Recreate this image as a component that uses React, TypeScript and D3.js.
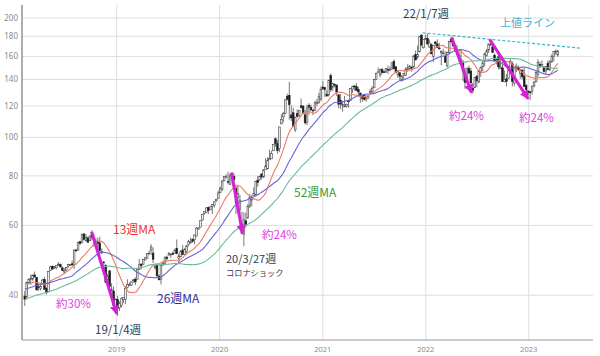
import React from "react";
import * as d3 from "d3";

const W = 600;
const H = 356;
const PL = 22, PR = 593, PT = 5, PB = 340;

// Closes of the 52 weeks before the first shown week (used only for moving averages)
const priorCloses: number[] = [
  33.0, 33.9, 34.2, 34.8, 34.8, 35.0, 35.2, 35.9, 35.8, 35.3, 35.6, 35.9,
  37.2, 39.0, 38.3, 38.4, 38.9, 37.2, 35.6, 36.6, 36.0, 36.0, 37.3, 37.6, 37.4,
  39.1, 39.4, 39.4, 40.0, 41.0, 39.7, 40.0, 38.0, 38.5, 38.8, 39.2, 39.1, 40.8,
  43.1, 43.7, 42.5, 43.7, 42.8, 42.3, 43.5, 43.8, 42.3, 43.8, 44.3, 44.6, 42.9, 40.1,
];

const firstWeek = "2018-02-09";

// weekly [open, high, low, close]
type Bar = [number, number, number, number];
const weeks2018: Bar[] = [
  [39.8, 41.0, 37.6, 39.1], [39.6, 43.3, 39.3, 43.1], [43.0, 44.1, 42.6, 43.9],
  [43.9, 45.1, 42.5, 44.05], [43.9, 45.0, 43.5, 45.0], [45.0, 45.9, 44.4, 44.5], [44.3, 44.5, 41.2, 41.24], [42.0, 43.0, 41.0, 41.95],
  [41.6, 43.0, 41.1, 42.1], [42.7, 44.0, 42.6, 43.68], [43.8, 44.5, 41.3, 41.43], [41.6, 41.9, 40.2, 40.58],
  [40.9, 46.1, 40.8, 45.96], [46.2, 47.5, 46.0, 47.15], [47.3, 47.6, 46.4, 46.58], [47.0, 47.4, 46.6, 47.15],
  [46.9, 47.6, 46.5, 47.56], [47.8, 48.5, 47.4, 47.93], [47.8, 48.1, 46.9, 47.21], [46.9, 47.3, 46.1, 46.23], [45.8, 46.9, 45.2, 46.28],
  [46.3, 47.1, 46.0, 46.99], [47.3, 48.0, 46.9, 47.83], [47.6, 48.0, 47.4, 47.86], [48.0, 48.9, 47.4, 47.75],
  [47.7, 52.2, 46.6, 52.0], [52.0, 52.4, 51.5, 51.88], [52.0, 54.5, 51.9, 54.4], [54.6, 54.6, 53.6, 54.04], [54.3, 57.2, 54.0, 56.91],
  [57.1, 57.4, 55.0, 55.33], [54.9, 57.1, 54.6, 55.96], [55.8, 56.3, 54.2, 54.42], [54.9, 56.5, 54.8, 56.44],
  [56.9, 58.4, 55.1, 56.07], [55.6, 57.0, 53.0, 55.53], [54.7, 55.8, 53.6, 54.83], [54.7, 55.9, 51.9, 54.08],
  [54.2, 56.2, 51.4, 51.87], [51.5, 52.5, 50.9, 51.12], [48.5, 48.8, 46.5, 48.38], [47.5, 47.9, 43.0, 43.07], [43.7, 45.3, 42.6, 44.65],
  [46.1, 46.2, 41.9, 42.12], [41.3, 42.9, 40.8, 41.37], [41.0, 42.1, 37.7, 37.68], [37.0, 39.3, 36.6, 39.06],
];
const weeks2019: Bar[] = [
  [39.0, 39.8, 35.5, 37.07], [37.2, 38.6, 36.5, 38.07], [37.7, 39.5, 37.3, 39.2], [39.0, 39.5, 38.2, 39.44],
  [39.0, 42.2, 38.0, 41.63], [41.8, 43.9, 41.6, 42.6], [42.4, 43.1, 42.2, 42.6], [42.4, 43.3, 42.4, 43.24],
  [43.5, 44.0, 43.0, 43.74], [43.9, 44.4, 42.4, 43.23], [43.9, 46.8, 43.8, 46.53], [46.5, 49.4, 46.4, 47.76], [47.9, 48.2, 46.5, 47.49],
  [47.9, 49.3, 47.8, 49.25], [49.1, 50.0, 49.0, 49.72], [49.6, 51.0, 49.5, 50.97], [51.0, 51.9, 50.7, 51.08],
  [52.0, 53.8, 50.6, 52.94], [51.1, 52.8, 48.2, 49.3], [46.9, 48.1, 46.4, 47.25], [47.5, 47.8, 44.7, 44.74], [44.7, 45.1, 43.6, 43.77],
  [43.9, 47.9, 42.6, 47.54], [47.9, 48.8, 47.4, 48.19], [48.2, 50.2, 48.0, 49.7], [49.9, 50.4, 48.9, 49.48],
  [50.8, 51.3, 50.2, 51.06], [50.5, 51.0, 49.7, 50.83], [51.0, 51.6, 50.6, 50.65], [51.0, 52.4, 50.9, 51.94],
  [52.5, 55.3, 50.7, 51.0], [49.5, 51.0, 48.1, 50.25], [50.0, 52.0, 50.0, 51.63], [52.0, 53.6, 50.5, 50.66], [50.7, 52.6, 50.6, 52.19],
  [51.6, 53.6, 51.1, 53.32], [53.7, 55.2, 53.1, 54.69], [54.4, 55.9, 54.1, 54.43], [55.3, 55.6, 54.3, 54.71],
  [55.2, 56.9, 53.8, 56.75], [56.4, 59.4, 56.3, 59.05], [58.7, 59.4, 58.6, 59.1], [59.4, 61.7, 59.3, 61.65],
  [61.9, 64.0, 61.7, 63.96], [64.3, 65.1, 63.8, 65.04], [64.6, 66.4, 64.6, 66.44], [66.5, 67.0, 64.1, 65.45], [65.7, 67.0, 65.6, 66.81],
  [66.9, 67.8, 64.1, 67.68], [67.5, 69.0, 66.5, 68.79], [69.2, 70.0, 68.8, 69.86], [70.1, 73.5, 70.1, 72.45],
];
const weeks2020: Bar[] = [
  [72.5, 75.2, 72.5, 74.36], [74.0, 78.2, 73.2, 77.58], [77.9, 79.7, 77.4, 79.68], [79.3, 80.8, 78.8, 79.58], [77.5, 81.9, 76.2, 77.38],
  [76.1, 81.2, 75.9, 80.01], [80.2, 81.8, 79.5, 81.24], [79.7, 81.2, 77.6, 78.26], [74.3, 76.0, 64.1, 68.34],
  [70.6, 76.0, 68.0, 72.26], [65.9, 71.6, 62.0, 69.49], [60.5, 65.0, 57.0, 57.31], [57.0, 64.7, 53.2, 61.94],
  [61.6, 64.6, 59.2, 60.35], [62.7, 67.9, 62.3, 67.0], [67.1, 72.1, 66.4, 70.7], [69.5, 71.5, 67.0, 70.74],
  [71.3, 74.8, 71.1, 72.27], [71.6, 77.6, 71.5, 77.53], [78.0, 79.9, 75.1, 76.93], [78.3, 80.2, 77.6, 79.72], [80.9, 81.1, 78.3, 79.49],
  [79.4, 83.0, 79.3, 82.88], [83.0, 88.7, 83.0, 84.7], [83.3, 89.1, 83.1, 87.43], [87.8, 93.1, 87.8, 88.41],
  [88.3, 92.6, 88.3, 91.03], [92.5, 96.3, 92.5, 95.92], [99.2, 99.9, 94.7, 96.52], [96.4, 98.5, 91.0, 92.62], [93.7, 106.4, 91.8, 106.26],
  [108.2, 114.4, 107.9, 111.11], [112.6, 116.0, 109.1, 114.91], [115.0, 124.9, 114.6, 124.37], [127.0, 128.8, 123.9, 124.81],
  [127.6, 138.0, 110.9, 120.96], [113.9, 120.5, 110.0, 112.0], [115.4, 118.8, 106.1, 106.84], [104.5, 112.9, 103.1, 112.28],
  [115.0, 117.7, 112.2, 113.02], [113.7, 117.0, 112.3, 116.97], [120.1, 125.4, 118.2, 119.02], [120.0, 120.4, 114.5, 115.04], [114.0, 117.3, 107.7, 108.86],
  [109.1, 121.0, 107.3, 118.69], [120.5, 122.0, 114.1, 119.26], [118.9, 121.0, 116.8, 117.34], [117.2, 117.6, 113.8, 116.59],
  [117.0, 123.8, 116.8, 122.25], [122.3, 125.0, 120.0, 122.41], [122.6, 129.6, 121.5, 126.66], [125.0, 134.4, 123.4, 131.97], [134.0, 138.8, 131.7, 132.69],
];
const weeks2021: Bar[] = [
  [133.5, 133.6, 126.4, 132.05], [128.5, 131.6, 126.9, 127.14], [127.8, 139.7, 126.9, 139.07], [143.1, 145.1, 130.2, 131.96],
  [133.8, 137.4, 130.9, 136.76], [136.0, 137.0, 133.7, 135.37], [135.5, 136.0, 127.4, 129.87], [128.0, 128.7, 118.4, 121.26],
  [123.8, 128.7, 118.0, 121.42], [120.9, 123.2, 116.2, 121.03], [119.9, 127.2, 119.7, 119.99], [119.9, 121.7, 118.9, 121.21],
  [123.7, 124.2, 118.9, 123.0], [123.9, 133.0, 123.8, 133.0], [132.4, 135.0, 129.5, 134.16], [134.8, 135.5, 131.3, 134.32], [134.3, 137.1, 131.1, 131.46],
  [132.0, 134.1, 126.7, 130.21], [129.4, 129.6, 122.3, 127.45], [126.9, 127.9, 122.9, 125.43], [127.8, 128.3, 123.9, 124.61],
  [125.1, 125.4, 123.1, 125.89], [126.5, 127.8, 124.8, 127.35], [129.9, 132.6, 129.2, 130.46], [130.3, 134.6, 129.2, 133.11],
  [133.4, 140.0, 133.3, 139.96], [140.1, 145.7, 140.0, 145.11], [146.2, 150.0, 145.5, 146.39], [143.8, 148.7, 141.7, 148.56], [148.3, 149.8, 144.1, 145.86],
  [146.4, 147.8, 145.5, 146.14], [146.2, 149.4, 145.3, 149.1], [148.5, 151.7, 144.5, 148.19], [147.4, 150.9, 146.8, 148.6],
  [148.7, 154.6, 148.6, 154.3], [155.5, 157.3, 148.7, 148.97], [150.6, 151.4, 145.8, 146.06], [143.8, 147.5, 141.3, 146.92],
  [145.5, 146.0, 139.1, 142.65], [139.5, 143.1, 138.3, 142.9], [143.1, 144.9, 139.2, 144.84], [143.4, 150.2, 143.2, 148.69], [148.7, 153.2, 146.4, 149.8],
  [149.0, 152.2, 147.8, 151.28], [150.2, 151.6, 146.5, 149.99], [150.4, 161.0, 150.0, 160.55], [161.7, 165.7, 156.4, 156.81],
  [159.4, 170.3, 157.8, 161.84], [164.3, 179.6, 164.3, 179.45], [181.1, 182.1, 169.7, 171.14], [168.3, 176.9, 167.5, 176.28], [177.1, 181.3, 176.7, 177.57],
];
const weeks2022: Bar[] = [
  [177.8, 182.9, 171.0, 172.17], [169.1, 176.6, 168.2, 173.07], [171.3, 172.5, 162.3, 162.41], [160.0, 170.3, 154.7, 170.33],
  [174.0, 175.0, 169.5, 172.39], [172.0, 176.7, 168.0, 168.64], [168.0, 173.1, 166.5, 167.3], [163.4, 166.1, 152.0, 164.85],
  [163.1, 167.4, 162.0, 163.17], [160.2, 165.0, 154.5, 154.73], [151.5, 164.5, 150.1, 163.98], [163.5, 175.3, 163.0, 174.72],
  [176.7, 179.6, 172.1, 174.31], [174.0, 178.5, 169.2, 170.09], [168.7, 171.3, 165.0, 165.29], [163.9, 171.3, 161.5, 161.79], [161.1, 166.2, 155.4, 157.65],
  [156.7, 166.5, 153.3, 157.28], [154.9, 156.7, 138.8, 147.11], [144.6, 149.8, 132.6, 137.59], [137.8, 149.7, 137.1, 149.64],
  [149.1, 151.7, 144.5, 145.38], [147.0, 149.9, 137.1, 137.13], [132.9, 137.3, 129.0, 131.56], [133.4, 141.9, 133.3, 141.66],
  [142.7, 143.5, 133.8, 138.93], [137.8, 147.6, 137.1, 147.04], [145.7, 150.9, 142.1, 150.17], [150.7, 156.3, 146.7, 154.09], [155.4, 163.6, 150.9, 162.51],
  [161.0, 167.2, 159.6, 165.35], [166.1, 172.2, 163.3, 172.1], [171.5, 176.2, 171.3, 171.52], [169.2, 171.1, 163.6, 163.62],
  [161.1, 162.9, 155.7, 155.81], [156.5, 157.8, 152.7, 157.37], [159.6, 164.3, 148.4, 150.7], [149.3, 158.7, 148.6, 150.43], [149.7, 154.7, 138.0, 138.2],
  [138.2, 147.5, 137.7, 140.09], [140.4, 144.5, 134.4, 138.38], [141.1, 147.9, 140.3, 147.27], [147.2, 157.5, 144.1, 155.74],
  [153.2, 155.5, 134.4, 138.38], [137.1, 150.0, 134.6, 149.7], [149.0, 153.6, 146.2, 151.29], [150.2, 151.8, 146.9, 148.11],
  [145.1, 149.1, 140.4, 147.81], [147.8, 148.6, 140.0, 142.16], [142.7, 150.0, 133.7, 134.51], [135.1, 136.6, 129.6, 131.86], [130.9, 131.4, 127.4, 129.93],
];
const weeks2023: Bar[] = [
  [130.3, 130.9, 124.2, 129.62], [130.5, 134.9, 128.1, 134.76], [134.8, 138.6, 133.8, 137.87], [138.1, 147.2, 137.9, 145.93],
  [144.0, 157.4, 141.3, 154.5], [152.6, 155.2, 149.7, 151.01], [151.0, 156.3, 150.9, 152.55], [150.2, 151.3, 145.7, 146.71],
  [147.1, 151.1, 143.9, 151.03], [153.8, 156.3, 147.6, 148.5], [147.8, 156.7, 147.6, 155.0], [155.1, 162.1, 154.2, 160.25], [159.9, 165.0, 155.3, 164.9],
  [164.3, 166.8, 161.5, 164.66], [161.4, 166.3, 159.8, 165.21],
];

const yTicks = [40, 60, 80, 100, 120, 140, 160, 180, 200];
const xTickYears = [2019, 2020, 2021, 2022, 2023];
const maPeriods = [13, 26, 52];
const maColors = ["#ec7c68", "#6666d6", "#6cbc98"];

// annotation arrows: [start date, start price, end date, end price]
const dropArrows: [string, number, string, number][] = [
  ["2018-10-04", 57.8, "2019-01-01", 35.9],
  ["2020-02-12", 81.4, "2020-03-22", 57.4],
  ["2022-04-03", 178.5, "2022-06-12", 129.6],
  ["2022-08-16", 176.4, "2022-12-30", 125.1],
];
const resistance: [string, number, string, number] = ["2021-12-21", 183.6, "2023-07-01", 168];

type Label = { text: string; x: number; y: number; color: string; size: number };
const labels: Label[] = [
  { text: "13週MA", x: 113, y: 234, color: "#e8352c", size: 12 },
  { text: "26週MA", x: 157, y: 303, color: "#2f2f9c", size: 12 },
  { text: "52週MA", x: 294, y: 197, color: "#3a9a3a", size: 12 },
  { text: "約30%", x: 56, y: 308, color: "#e040e0", size: 11.5 },
  { text: "約24%", x: 262, y: 239, color: "#e040e0", size: 11.5 },
  { text: "約24%", x: 449, y: 120, color: "#e040e0", size: 11.5 },
  { text: "約24%", x: 519, y: 122, color: "#e040e0", size: 11.5 },
  { text: "19/1/4週", x: 95, y: 334, color: "#2c3a4e", size: 11.5 },
  { text: "20/3/27週", x: 226, y: 263, color: "#2c3a4e", size: 11 },
  { text: "コロナショック", x: 226, y: 276, color: "#2c3a4e", size: 8.2 },
  { text: "22/1/7週", x: 403, y: 18, color: "#2c3a4e", size: 11.5 },
  { text: "上値ライン", x: 500, y: 27, color: "#3cb4d8", size: 11 },
];

const parse = d3.timeParse("%Y-%m-%d");

export default function App() {
  const x = d3
    .scaleTime()
    .domain([new Date(2019, 0, 1), new Date(2023, 0, 1)])
    .range([116.7, 528.7]);
  const y = d3.scaleLog().domain([30.85, 215.7]).range([PB, PT]);

  const all = [...weeks2018, ...weeks2019, ...weeks2020, ...weeks2021, ...weeks2022, ...weeks2023];
  const start = parse(firstWeek) as Date;
  const bars = all.map((b, i) => ({
    date: d3.timeDay.offset(start, 7 * i),
    o: b[0], h: b[1], l: b[2], c: b[3],
  }));
  const closes = [...priorCloses, ...bars.map((b) => b.c)];
  const mas = maPeriods.map((n) =>
    bars.map((b, i) => {
      const end = priorCloses.length + i + 1;
      return { date: b.date, v: d3.mean(closes.slice(end - n, end)) as number };
    })
  );
  const line = d3
    .line<{ date: Date; v: number }>()
    .x((d) => x(d.date))
    .y((d) => y(d.v))
    .curve(d3.curveMonotoneX);

  const bw = 1.7;
  const font = "'Noto Sans CJK JP', 'Noto Sans', sans-serif";

  return (
    <svg
      width={W}
      height={H}
      style={{ position: "absolute", left: 0, top: 0, background: "#fff" }}
    >
      <defs>
        <marker
          id="ah"
          viewBox="0 0 10 10"
          refX="9"
          refY="5"
          markerWidth="9"
          markerHeight="9"
          markerUnits="userSpaceOnUse"
          orient="auto"
        >
          <path d="M0,0 L10,5 L0,10 z" fill="#d61fd6" />
        </marker>
        <clipPath id="plot">
          <rect x={PL} y={PT} width={PR - PL} height={PB - PT} />
        </clipPath>
      </defs>

      {/* grid */}
      {yTicks.map((t) => (
        <g key={"y" + t}>
          <line x1={PL} x2={PR} y1={y(t)} y2={y(t)} stroke="#dedede" strokeWidth={1} />
          <text x={18} y={y(t) + 3} textAnchor="end" fontSize={8} fill="#8a8a8a" fontFamily="'Noto Sans', sans-serif">
            {t}
          </text>
        </g>
      ))}
      {xTickYears.map((yr) => {
        const xx = x(new Date(yr, 0, 1));
        return (
          <g key={"x" + yr}>
            <line x1={xx} x2={xx} y1={PT} y2={PB} stroke="#dedede" strokeWidth={1} />
            <text x={xx} y={352} textAnchor="middle" fontSize={7.5} fill="#8a8a8a" fontFamily="'Noto Sans', sans-serif">
              {yr}
            </text>
          </g>
        );
      })}
      <line x1={PL} x2={PL} y1={PT} y2={PB} stroke="#777" strokeWidth={1.2} />
      <line x1={PL} x2={PR} y1={PB} y2={PB} stroke="#999" strokeWidth={1.2} />

      <g clipPath="url(#plot)">
        {/* candles */}
        {bars.map((b, i) => {
          const cx = x(b.date);
          const up = b.c >= b.o;
          const top = y(Math.max(b.o, b.c));
          const bot = y(Math.min(b.o, b.c));
          return (
            <g key={i}>
              <line x1={cx} x2={cx} y1={y(b.h)} y2={y(b.l)} stroke="#555" strokeWidth={0.8} />
              <rect
                x={cx - bw / 2}
                y={top}
                width={bw}
                height={Math.max(0.8, bot - top)}
                fill={up ? "#eeeeee" : "#1e1e1e"}
                stroke={up ? "#444" : "#1e1e1e"}
                strokeWidth={0.6}
              />
            </g>
          );
        })}
        {/* moving averages */}
        {mas.map((m, k) => (
          <path key={k} d={line(m) || ""} fill="none" stroke={maColors[k]} strokeWidth={1.1} />
        ))}
      </g>

      {/* resistance line */}
      <line
        x1={x(parse(resistance[0]) as Date)}
        y1={y(resistance[1])}
        x2={x(parse(resistance[2]) as Date)}
        y2={y(resistance[3])}
        stroke="#35b3d6"
        strokeWidth={1.2}
        strokeDasharray="3,2"
      />

      {/* drop arrows */}
      {dropArrows.map((a, i) => (
        <line
          key={i}
          x1={x(parse(a[0]) as Date)}
          y1={y(a[1])}
          x2={x(parse(a[2]) as Date)}
          y2={y(a[3])}
          stroke="#d61fd6"
          strokeWidth={3}
          markerEnd="url(#ah)"
        />
      ))}

      {labels.map((l, i) => (
        <text key={i} x={l.x} y={l.y} fontSize={l.size} fill={l.color} fontFamily={font}>
          {l.text}
        </text>
      ))}
    </svg>
  );
}
